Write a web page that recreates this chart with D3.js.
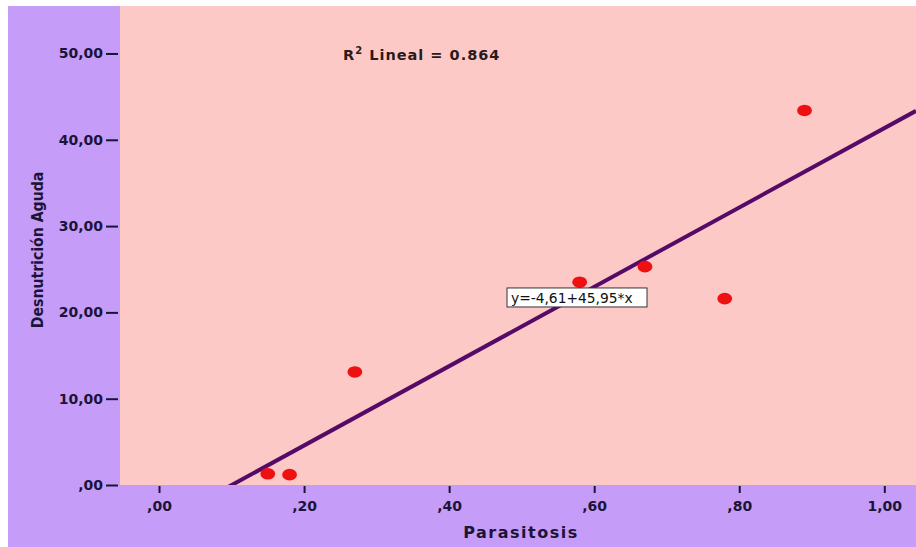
<!DOCTYPE html>
<html lang="es">
<head>
    <meta charset="UTF-8">
    <title>Parasitosis vs Desnutrición Aguda</title>
    <script src="https://cdn.jsdelivr.net/npm/d3@7"></script>
    <style>
        body { margin: 0; background: #fff; }
        svg text { font-family: "DejaVu Sans", Verdana, sans-serif; }
    </style>
</head>
<body>
<svg id="chart"></svg>

<script>
    // datos
    const parasitosis = [0.15, 0.18, 0.27, 0.58, 0.67, 0.78, 0.89];
    const desnutricion = [1.3, 1.2, 13.1, 23.5, 25.3, 21.6, 43.4];
    const xTicks = [0, 0.2, 0.4, 0.6, 0.8, 1.0];
    const yTicks = [0, 10, 20, 30, 40, 50];
    const intercepto = -4.61, pendiente = 45.95, r2 = 0.864;

    const W = 916, H = 547;
    const plot = {left: 120, top: 6, right: 916, bottom: 485};
    // formato SPSS: coma decimal, sin cero inicial, guion normal
    const fmt = v => d3.format(".2f")(v).replace("\u2212", "-").replace(".", ",").replace(/^0,/, ",").replace(/^-0,/, "-,");

    const svg = d3.select("#chart").attr("width", W).attr("height", H);

    // fondo lila y area de trazado rosa
    svg.append("rect").attr("x", 8).attr("y", 6).attr("width", W - 8).attr("height", H - 6).attr("fill", "#c59cf7");
    svg.append("rect").attr("x", plot.left).attr("y", plot.top)
        .attr("width", plot.right - plot.left).attr("height", plot.bottom - plot.top).attr("fill", "#fdc9c7");

    const x = d3.scaleLinear().domain([-0.0538, 1.0437]).range([plot.left, plot.right]);
    const y = d3.scaleLinear().domain([0, 55.5]).range([plot.bottom, plot.top]);

    svg.append("defs").append("clipPath").attr("id", "clip")
        .append("rect").attr("x", plot.left).attr("y", plot.top)
        .attr("width", plot.right - plot.left).attr("height", plot.bottom - plot.top);

    // eje y
    const gy = svg.append("g").attr("transform", "translate(118,0)")
        .call(d3.axisLeft(y).tickValues(yTicks).tickFormat(fmt).tickSize(12).tickPadding(3));
    gy.select(".domain").remove();
    gy.selectAll("line").attr("stroke", "#1c1438").attr("stroke-width", 2);
    gy.selectAll("text").attr("fill", "#1c1438").attr("font-size", "14px").attr("font-weight", "bold");

    // eje x
    const gx = svg.append("g").attr("transform", "translate(0," + (plot.bottom + 1) + ")")
        .call(d3.axisBottom(x).tickValues(xTicks).tickFormat(fmt).tickSize(7).tickPadding(8));
    gx.select(".domain").remove();
    gx.selectAll("line").attr("stroke", "#1c1438").attr("stroke-width", 2);
    gx.selectAll("text").attr("fill", "#1c1438").attr("font-size", "14px").attr("font-weight", "bold");

    // titulos de ejes
    svg.append("text")
        .attr("transform", "translate(43,250) rotate(-90) scale(0.88,1)")
        .attr("text-anchor", "middle")
        .attr("font-size", "16px").attr("font-weight", "bold").attr("fill", "#1c1438")
        .text("Desnutrición Aguda");

    svg.append("text")
        .attr("x", 521).attr("y", 538)
        .attr("text-anchor", "middle")
        .attr("font-size", "16px").attr("font-weight", "bold").attr("letter-spacing", "1.5px").attr("fill", "#1c1438")
        .text("Parasitosis");

    // recta de regresion
    const xd = x.domain();
    svg.append("line")
        .attr("clip-path", "url(#clip)")
        .attr("x1", x(xd[0])).attr("y1", y(intercepto + pendiente * xd[0]))
        .attr("x2", x(xd[1])).attr("y2", y(intercepto + pendiente * xd[1]))
        .attr("stroke", "#560a68").attr("stroke-width", 4);

    // puntos
    svg.append("g").selectAll("ellipse")
        .data(parasitosis.map((p, i) => ({p: p, d: desnutricion[i]})))
        .enter().append("ellipse")
        .attr("cx", d => x(d.p)).attr("cy", d => y(d.d))
        .attr("rx", 7.4).attr("ry", 5.8)
        .attr("fill", "#ee1111");

    // R2
    const r2t = svg.append("text")
        .attr("x", x(0.2537)).attr("y", y(49.25))
        .attr("font-size", "14.5px").attr("font-weight", "bold").attr("letter-spacing", "1px").attr("fill", "#2a1a1a");
    r2t.append("tspan").text("R");
    r2t.append("tspan").attr("dy", -6).attr("font-size", "10px").text("2");
    r2t.append("tspan").attr("dy", 6).text(" Lineal = " + r2.toFixed(3));

    // etiqueta de la ecuacion
    const bx = x(0.4798), by = y(22.83);
    svg.append("rect").attr("x", bx).attr("y", by).attr("width", 140).attr("height", 19)
        .attr("fill", "#fff").attr("stroke", "#333").attr("stroke-width", 1);
    svg.append("text")
        .attr("x", bx + 4).attr("y", by + 15)
        .attr("font-size", "13.8px").attr("fill", "#111")
        .text("y=" + fmt(intercepto) + "+" + fmt(pendiente) + "*x");
</script>
</body>
</html>
